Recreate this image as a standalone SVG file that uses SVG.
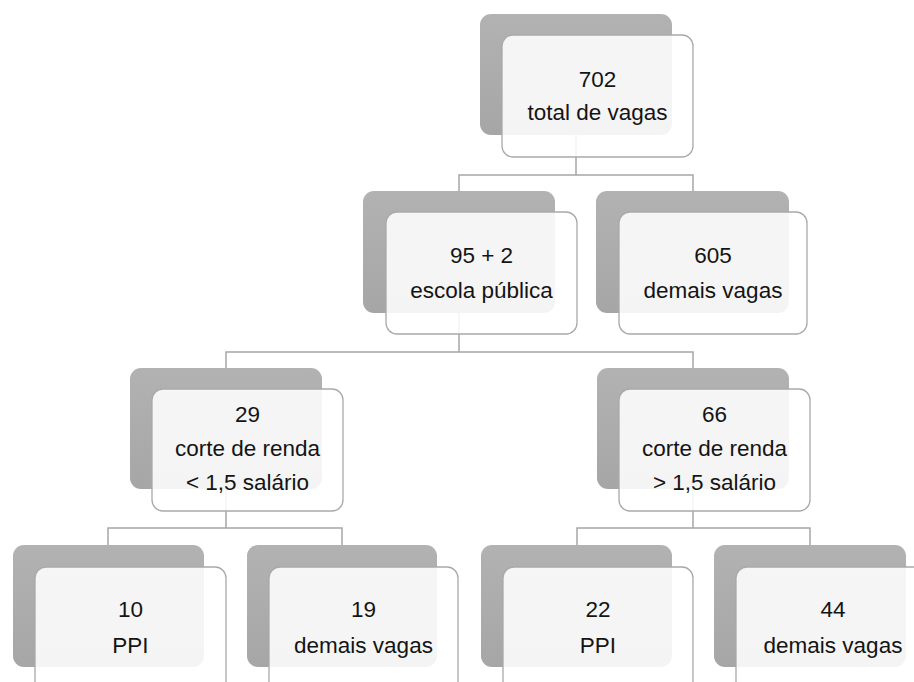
<svg xmlns="http://www.w3.org/2000/svg" width="914" height="682" viewBox="0 0 914 682">
<defs>
<linearGradient id="g" x1="0" y1="0" x2="0" y2="1">
<stop offset="0" stop-color="#b2b2b2"/>
<stop offset="1" stop-color="#a6a6a6"/>
</linearGradient>
<style>
.back{fill:url(#g);}
.front{fill:#ffffff;fill-opacity:0.88;stroke:#a9a9a9;stroke-width:1.3;}
.con{fill:none;stroke:#a6a6a6;stroke-width:1.5;}
text{font-family:"Liberation Sans",Arial,sans-serif;font-size:22.5px;fill:#141414;text-anchor:middle;}
</style>
</defs>
<rect width="914" height="682" fill="#ffffff"/>
<g id="backs">
<rect class="back" x="480" y="14" width="192" height="121" rx="11"/>
<rect class="back" x="363" y="191" width="192" height="122" rx="11"/>
<rect class="back" x="596" y="191" width="193" height="122" rx="11"/>
<rect class="back" x="130" y="368" width="192" height="121" rx="11"/>
<rect class="back" x="597" y="368" width="192" height="121" rx="11"/>
<rect class="back" x="13" y="545" width="191" height="122" rx="11"/>
<rect class="back" x="247" y="545" width="190" height="122" rx="11"/>
<rect class="back" x="481" y="545" width="191" height="122" rx="11"/>
<rect class="back" x="714" y="545" width="192" height="122" rx="11"/>
</g>
<g id="connectors">
<path class="con" d="M576,135 V175 M459,191 V175 H693 V191"/>
<path class="con" d="M459,313 V352 M226,368 V352 H693 V368"/>
<path class="con" d="M226,489 V528 M108,545 V528 H342 V545"/>
<path class="con" d="M693,489 V528 M577,545 V528 H810 V545"/>
</g>
<g id="n-total">
<rect class="front" x="502" y="35" width="191" height="122" rx="11"/>
<text x="597.5" y="87">702</text>
<text x="597.5" y="120">total de vagas</text>
</g>
<g id="n-escola">
<rect class="front" x="386" y="212" width="191" height="122" rx="11"/>
<text x="481.5" y="263">95 + 2</text>
<text x="481.5" y="298">escola pública</text>
</g>
<g id="n-demais605">
<rect class="front" x="619" y="212" width="188" height="122" rx="11"/>
<text x="713" y="263">605</text>
<text x="713" y="298">demais vagas</text>
</g>
<g id="n-menor">
<rect class="front" x="152" y="389" width="191" height="122" rx="11"/>
<text x="247.5" y="422">29</text>
<text x="247.5" y="456">corte de renda</text>
<text x="247.5" y="490">&lt; 1,5 salário</text>
</g>
<g id="n-maior">
<rect class="front" x="619" y="389" width="191" height="122" rx="11"/>
<text x="714.5" y="422">66</text>
<text x="714.5" y="456">corte de renda</text>
<text x="714.5" y="490">&gt; 1,5 salário</text>
</g>
<g id="n-ppi10">
<rect class="front" x="35" y="567" width="191" height="130" rx="11"/>
<text x="130.5" y="617">10</text>
<text x="130.5" y="653">PPI</text>
</g>
<g id="n-demais19">
<rect class="front" x="269" y="567" width="189" height="130" rx="11"/>
<text x="363.5" y="617">19</text>
<text x="363.5" y="653">demais vagas</text>
</g>
<g id="n-ppi22">
<rect class="front" x="503" y="567" width="190" height="130" rx="11"/>
<text x="598" y="617">22</text>
<text x="598" y="653">PPI</text>
</g>
<g id="n-demais44">
<rect class="front" x="736" y="567" width="194" height="130" rx="11"/>
<text x="833" y="617">44</text>
<text x="833" y="653">demais vagas</text>
</g>
</svg>
